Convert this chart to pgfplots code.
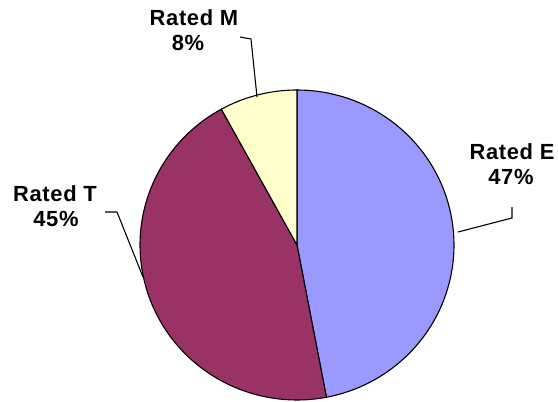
\documentclass[border=0pt]{standalone}
\usepackage{fontspec}
\setmainfont{Liberation Sans}[LetterSpace=3]
\usepackage{pgfplots}
\pgfplotsset{compat=1.18}
\definecolor{pE}{HTML}{9999FF}
\definecolor{pT}{HTML}{993366}
\definecolor{pM}{HTML}{FFFFCC}
\begin{document}
\begin{tikzpicture}
\begin{axis}[width=558bp,height=402bp,scale only axis,
  xmin=0,xmax=558,ymin=0,ymax=402,hide axis,clip=false]
\addplot[draw=none,forget plot] coordinates {(0,0) (558,402)};
% shares in percent: E 47, T 45, M 8 ; clockwise from 12 o'clock
\addplot[fill=pE,draw=black,line width=1.1bp,domain={90}:{90-3.6*47},samples=90,variable=\t]
  ({297+157*cos(\t)},{157+155*sin(\t)}) -- (axis cs:297,157) -- cycle;
\addplot[fill=pT,draw=black,line width=1.1bp,domain={90-3.6*47}:{90-3.6*(47+45)},samples=90,variable=\t]
  ({297+157*cos(\t)},{157+155*sin(\t)}) -- (axis cs:297,157) -- cycle;
\addplot[fill=pM,draw=black,line width=1.1bp,domain={90-3.6*(47+45)}:{90-3.6*100},samples=30,variable=\t]
  ({297+157*cos(\t)},{157+155*sin(\t)}) -- (axis cs:297,157) -- cycle;
% leader lines
\addplot[black,line width=1.1bp] coordinates {(240,365) (251,363) (257,305)};
\addplot[black,line width=1.1bp] coordinates {(512,195) (512,184) (458,170)};
\addplot[black,line width=1.1bp] coordinates {(105,190) (117,190) (143,125)};
% labels
\node[anchor=base,inner sep=0] at (axis cs:194,376) {\fontsize{22}{25}\selectfont\bfseries Rated M};
\node[anchor=base,inner sep=0] at (axis cs:188,351) {\fontsize{22}{25}\selectfont\bfseries 8\%};
\node[anchor=base,inner sep=0] at (axis cs:512,242) {\fontsize{22}{25}\selectfont\bfseries Rated E};
\node[anchor=base,inner sep=0] at (axis cs:511,217) {\fontsize{22}{25}\selectfont\bfseries 47\%};
\node[anchor=base,inner sep=0] at (axis cs:55,200) {\fontsize{22}{25}\selectfont\bfseries Rated T};
\node[anchor=base,inner sep=0] at (axis cs:56,175) {\fontsize{22}{25}\selectfont\bfseries 45\%};
\end{axis}
\end{tikzpicture}
\end{document}
